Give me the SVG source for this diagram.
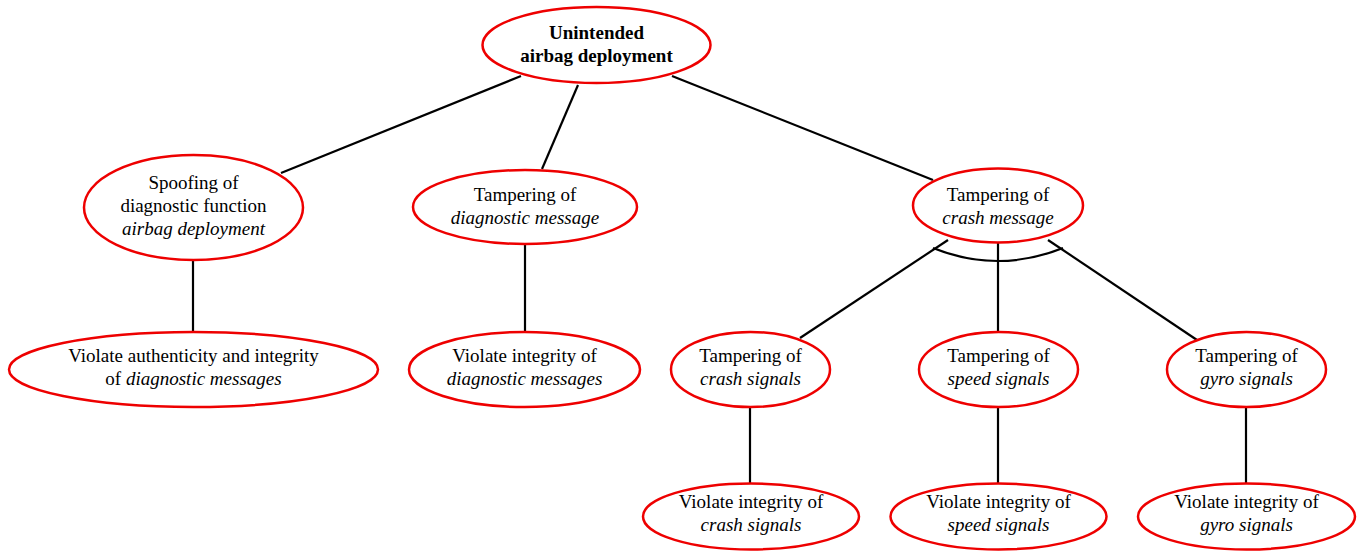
<svg xmlns="http://www.w3.org/2000/svg" width="1359" height="551" viewBox="0 0 1359 551">
<style>
  .node ellipse { fill: #fff; stroke: #ee0000; stroke-width: 2.5; }
  .edge { stroke: #000; stroke-width: 2.2; fill: none; }
  text { font-family: 'Liberation Serif', 'DejaVu Serif', serif; font-size: 19px; fill: #000; text-anchor: middle; }
  .b { font-weight: bold; }
  .i { font-style: italic; }
</style>
<rect width="1359" height="551" fill="#fff"/>
<g id="connectors">
  <line class="edge" x1="521" y1="76" x2="281" y2="173"/>
  <line class="edge" x1="578" y1="85" x2="542" y2="169"/>
  <line class="edge" x1="672" y1="76" x2="933" y2="180"/>
  <line class="edge" x1="193" y1="260" x2="193" y2="332"/>
  <line class="edge" x1="525" y1="244" x2="525" y2="332"/>
  <line class="edge" x1="948" y1="240" x2="800" y2="338"/>
  <line class="edge" x1="998" y1="243" x2="998" y2="332"/>
  <line class="edge" x1="1048" y1="240" x2="1197" y2="340"/>
  <path class="edge" d="M933,248 Q998,274 1063,248"/>
  <line class="edge" x1="750" y1="406" x2="750" y2="484"/>
  <line class="edge" x1="998" y1="406" x2="998" y2="484"/>
  <line class="edge" x1="1246" y1="406" x2="1246" y2="484"/>
</g>
<g id="root" class="node">
  <ellipse cx="596.5" cy="45" rx="114" ry="38"/>
  <text x="596.5" y="39" class="b">Unintended</text>
  <text x="596.5" y="62" class="b">airbag deployment</text>
</g>
<g id="spoof-diag" class="node">
  <ellipse cx="193.5" cy="207.5" rx="109.5" ry="52.5"/>
  <text x="193.5" y="189">Spoofing of</text>
  <text x="193.5" y="212">diagnostic function</text>
  <text x="193.5" y="235" class="i">airbag deployment</text>
</g>
<g id="tamper-diag-msg" class="node">
  <ellipse cx="525" cy="207" rx="112" ry="37"/>
  <text x="525" y="201">Tampering of</text>
  <text x="525" y="224" class="i">diagnostic message</text>
</g>
<g id="tamper-crash-msg" class="node">
  <ellipse cx="998" cy="205.5" rx="85" ry="37"/>
  <text x="998" y="201">Tampering of</text>
  <text x="998" y="224" class="i">crash message</text>
</g>
<g id="violate-auth-diag" class="node">
  <ellipse cx="193.5" cy="369.5" rx="184.5" ry="37.5"/>
  <text x="193.5" y="362">Violate authenticity and integrity</text>
  <text x="193.5" y="385">of <tspan class="i">diagnostic messages</tspan></text>
</g>
<g id="violate-int-diag" class="node">
  <ellipse cx="524.5" cy="369.5" rx="115.5" ry="37.5"/>
  <text x="524.5" y="362">Violate integrity of</text>
  <text x="524.5" y="385" class="i">diagnostic messages</text>
</g>
<g id="tamper-crash-sig" class="node">
  <ellipse cx="750.5" cy="369.5" rx="79.5" ry="37.5"/>
  <text x="750.5" y="362">Tampering of</text>
  <text x="750.5" y="385" class="i">crash signals</text>
</g>
<g id="tamper-speed-sig" class="node">
  <ellipse cx="998.5" cy="369.5" rx="79.5" ry="37.5"/>
  <text x="998.5" y="362">Tampering of</text>
  <text x="998.5" y="385" class="i">speed signals</text>
</g>
<g id="tamper-gyro-sig" class="node">
  <ellipse cx="1246.5" cy="369.5" rx="79.5" ry="37.5"/>
  <text x="1246.5" y="362">Tampering of</text>
  <text x="1246.5" y="385" class="i">gyro signals</text>
</g>
<g id="violate-crash-sig" class="node">
  <ellipse cx="751" cy="516.5" rx="108" ry="33"/>
  <text x="751" y="508">Violate integrity of</text>
  <text x="751" y="531" class="i">crash signals</text>
</g>
<g id="violate-speed-sig" class="node">
  <ellipse cx="998.5" cy="516.5" rx="108" ry="33"/>
  <text x="998.5" y="508">Violate integrity of</text>
  <text x="998.5" y="531" class="i">speed signals</text>
</g>
<g id="violate-gyro-sig" class="node">
  <ellipse cx="1246.5" cy="516.5" rx="108.5" ry="33"/>
  <text x="1246.5" y="508">Violate integrity of</text>
  <text x="1246.5" y="531" class="i">gyro signals</text>
</g>
</svg>
